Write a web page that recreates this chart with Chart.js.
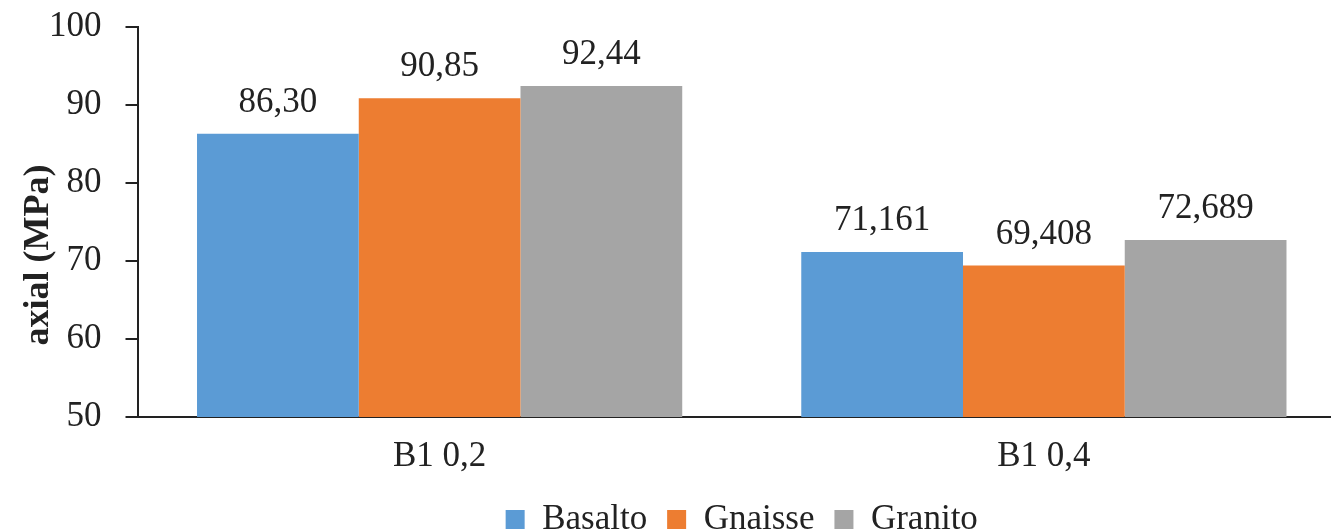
<!DOCTYPE html>
<html lang="pt">
<head>
    <meta charset="UTF-8">
    <title>Tensão axial</title>
    <script src="https://cdn.jsdelivr.net/npm/chart.js@4.4.0/dist/chart.umd.min.js"></script>
    <style>
        html, body { margin: 0; padding: 0; background: #fff; overflow: hidden; }
        #wrap { width: 1331px; height: 532px; overflow: hidden; }
    </style>
</head>
<body>
    <div id="wrap">
        <canvas id="chart" width="1360" height="547"></canvas>
    </div>

    <script>
        // dados
        const categories = ['B1 0,2', 'B1 0,4'];
        const basalto = [86.30, 71.161];
        const gnaisse = [90.85, 69.408];
        const granito = [92.44, 72.689];
        const decimals = [2, 3];
        const yTicks = [50, 60, 70, 80, 90, 100];

        const fontFamily = '"Liberation Serif", "Times New Roman", serif';
        Chart.defaults.font.family = fontFamily;
        Chart.defaults.font.size = 35;
        Chart.defaults.color = '#222';

        // rótulos de valor acima das barras
        const valueLabels = {
            id: 'valueLabels',
            afterDatasetsDraw(chart) {
                const ctx = chart.ctx;
                ctx.save();
                ctx.font = '35px ' + fontFamily;
                ctx.fillStyle = '#222';
                ctx.textAlign = 'center';
                ctx.textBaseline = 'alphabetic';
                chart.data.datasets.forEach((ds, i) => {
                    chart.getDatasetMeta(i).data.forEach((bar, j) => {
                        const txt = ds.data[j].toFixed(decimals[j]).replace('.', ',');
                        ctx.fillText(txt, bar.x, bar.y - 22);
                    });
                });
                ctx.restore();
            }
        };

        // título do eixo y
        const yTitle = {
            id: 'yTitle',
            afterDraw(chart) {
                const ctx = chart.ctx;
                ctx.save();
                ctx.translate(39, 255);
                ctx.rotate(-Math.PI / 2);
                ctx.font = 'bold 36px ' + fontFamily;
                ctx.fillStyle = '#222';
                ctx.textAlign = 'center';
                ctx.textBaseline = 'middle';
                ctx.fillText('axial (MPa)', 0, 0);
                ctx.restore();
            }
        };

        new Chart(document.getElementById('chart'), {
            type: 'bar',
            data: {
                labels: categories,
                datasets: [
                    { label: 'Basalto', data: basalto, backgroundColor: '#5B9BD5' },
                    { label: 'Gnaisse', data: gnaisse, backgroundColor: '#ED7D31' },
                    { label: 'Granito', data: granito, backgroundColor: '#A5A5A5' }
                ]
            },
            options: {
                responsive: false,
                animation: false,
                layout: { padding: { top: 27, left: 25, right: 14, bottom: 0 } },
                datasets: {
                    bar: { barPercentage: 1.0, categoryPercentage: 0.803 }
                },
                plugins: {
                    legend: {
                        position: 'bottom',
                        fullSize: false,
                        labels: {
                            boxWidth: 19,
                            boxHeight: 19,
                            padding: 20,
                            font: { size: 35 }
                        }
                    },
                    tooltip: { enabled: false }
                },
                scales: {
                    x: {
                        grid: { display: false },
                        border: { color: '#222', width: 2 },
                        ticks: { padding: 11 },
                        afterFit(scale) {
                            scale.height -= 7;
                        }
                    },
                    y: {
                        min: 50,
                        max: 100,
                        afterBuildTicks(scale) {
                            scale.ticks = yTicks.map(v => ({ value: v }));
                        },
                        afterFit(scale) {
                            scale.paddingTop = 0;
                        },
                        grid: {
                            drawOnChartArea: false,
                            drawTicks: true,
                            tickLength: 12,
                            color: '#222',
                            lineWidth: 2
                        },
                        border: { color: '#222', width: 2 },
                        ticks: { padding: 24 }
                    }
                }
            },
            plugins: [valueLabels, yTitle]
        });
    </script>
</body>
</html>
